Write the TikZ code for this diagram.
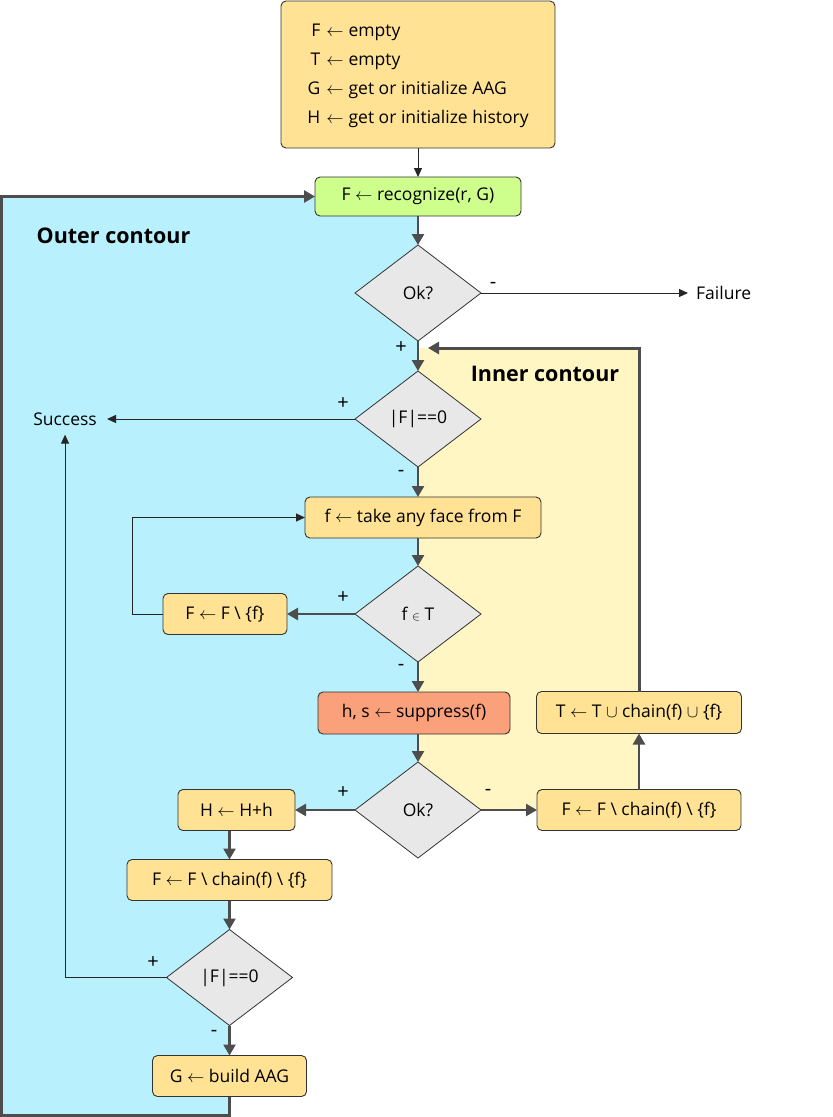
\documentclass[tikz,border=0pt]{standalone}
\usepackage{fontspec}
\setmainfont{Open Sans}
\usetikzlibrary{positioning, shapes.geometric, arrows.meta, calc, backgrounds}

\definecolor{zoneblue}{RGB}{184,241,253}
\definecolor{zoneyellow}{RGB}{255,246,196}
\definecolor{boxfill}{RGB}{255,226,148}
\definecolor{recogfill}{RGB}{206,255,140}
\definecolor{suppfill}{RGB}{250,160,122}
\definecolor{decfill}{RGB}{232,232,232}
\definecolor{boxline}{RGB}{51,51,51}
\definecolor{flowgray}{RGB}{77,77,77}

\begin{document}
\begin{tikzpicture}[x=1pt, y=-1pt, font=\fontsize{17.5}{20}\selectfont,
    box/.style={rectangle, rounded corners=5pt, draw=boxline, line width=0.9pt, fill=boxfill, minimum height=41pt, inner sep=2pt, outer sep=0pt},
    decision/.style={diamond, draw=boxline, line width=0.8pt, fill=decfill, minimum width=126pt, minimum height=96pt, inner sep=0pt, outer sep=0pt},
    term/.style={inner xsep=10pt, inner ysep=9pt},
    sign/.style={inner sep=0pt, font=\fontsize{20}{22}\selectfont},
    zonelabel/.style={font=\bfseries\fontsize{21.5}{24}\selectfont},
    flow/.style={draw=flowgray, line width=2.4pt, -{Triangle[length=11pt, width=12pt]}},
    link/.style={draw=black!85, line width=1pt, -{Triangle[length=9pt, width=8pt]}},
    contour/.style={flow, line width=3pt}]

    \useasboundingbox (0,0) rectangle (833,1117);

    \node[box, minimum width=274pt, minimum height=147pt] (init) at (418,74.5) {\fontsize{17.5}{29}\selectfont
        \begin{tabular}{@{}r@{\hspace{6pt}}c@{\hspace{5pt}}l@{}}
            F & $\leftarrow$ & empty\\
            T & $\leftarrow$ & empty\\
            G & $\leftarrow$ & get or initialize AAG\\
            H & $\leftarrow$ & get or initialize history
        \end{tabular}};
    \node[box, fill=recogfill, minimum width=206pt, minimum height=39pt, below=29pt of init] (recog) {F $\leftarrow$ recognize(r, G)};
    \node[decision, below=29pt of recog] (okA) {Ok?};
    \node[decision, below=30pt of okA] (fzeroA) {|F|==0};
    \node[box, minimum width=236pt, below=30pt of fzeroA, xshift=5pt] (take) {f $\leftarrow$ take any face from F};
    \node[decision, below=28pt of take, xshift=-5pt] (fint) {f $\scriptstyle\in$ T};
    \node[box, minimum width=124pt, left=68pt of fint] (remf) {F $\leftarrow$ F \textbackslash\ \{f\}};
    \node[box, fill=suppfill, minimum width=192pt, minimum height=42pt, below=30pt of fint, xshift=-4pt] (supp) {h, s $\leftarrow$ suppress(f)};
    \node[decision, below=28pt of supp, xshift=4pt] (okB) {Ok?};
    \node[box, minimum width=117pt, left=60pt of okB] (hist) {H $\leftarrow$ H+h};
    \node[box, minimum width=204pt, right=56pt of okB] (chainR) {F $\leftarrow$ F \textbackslash\ chain(f) \textbackslash\ \{f\}};
    \node[box, minimum width=205pt, minimum height=42pt, above=56pt of chainR] (tupd) {T $\leftarrow$ T $\cup$ chain(f) $\cup$ \{f\}};
    \node[box, minimum width=205pt, below=29pt of hist, xshift=-7pt] (chainL) {F $\leftarrow$ F \textbackslash\ chain(f) \textbackslash\ \{f\}};
    \node[decision, below=29pt of chainL] (fzeroB) {|F|==0};
    \node[box, minimum width=154pt, below=30pt of fzeroB] (build) {G $\leftarrow$ build AAG};

    \node[term, left=248pt of fzeroA] (success) {Success};
    \node[term, inner xsep=8pt, right=207pt of okA] (failure) {Failure};

    \node[zonelabel] (outerlbl) at (113.5,236) {Outer contour};
    \node[zonelabel] (innerlbl) at (545,374) {Inner contour};

    \coordinate (ientry) at (428,348);
    \coordinate (ocorner) at (1,1115);

    % contours
    \begin{scope}[on background layer]
        \fill[zoneblue] (ocorner |- recog.west) -- (recog.west -| okA.north) -- (okB.center)
            -- (okB.center -| build.south) -- (build.south |- ocorner) -- (ocorner) -- cycle;
        \fill[zoneyellow] (okA.south |- ientry) rectangle (okB.center -| tupd.north);
    \end{scope}

    \draw[link] (init) -- (recog);
    \draw[flow] (recog) -- (okA);
    \draw[link] (okA) -- (failure);
    \draw[flow] (okA) -- (fzeroA);
    \draw[link] (fzeroA) -- (success);
    \draw[flow] (fzeroA.south) -- (fzeroA.south |- take.north);
    \draw[flow] (fint.north |- take.south) -- (fint);
    \draw[flow] (fint) -- (remf);
    \draw[link] (remf.west) -- ++(-31pt,0pt) |- (take.west);
    \draw[flow] (fint.south) -- (fint.south |- supp.north);
    \draw[flow] (okB.north |- supp.south) -- (okB);
    \draw[flow] (okB) -- (hist);
    \draw[flow] (okB) -- (chainR);
    \draw[flow] (chainR) -- (tupd);
    \draw[contour] (tupd.north) |- (ientry);
    \draw[flow] (hist.south -| chainL.north) -- (chainL.north);
    \draw[flow] (chainL) -- (fzeroB);
    \draw[flow] (fzeroB) -- (build);
    \draw[link] (fzeroB.west) -| (success.south);
    \draw[contour] (build.south) |- (ocorner) |- (recog.west);

    % signs
    \node[sign] at (493,285) {-};
    \node[sign] at (401,348) {+};
    \node[sign] at (343,404) {+};
    \node[sign] at (401,473) {-};
    \node[sign] at (343,598) {+};
    \node[sign] at (401,667) {-};
    \node[sign] at (343,793) {+};
    \node[sign] at (488,792) {-};
    \node[sign] at (153,963) {+};
    \node[sign] at (214,1033) {-};
\end{tikzpicture}
\end{document}
